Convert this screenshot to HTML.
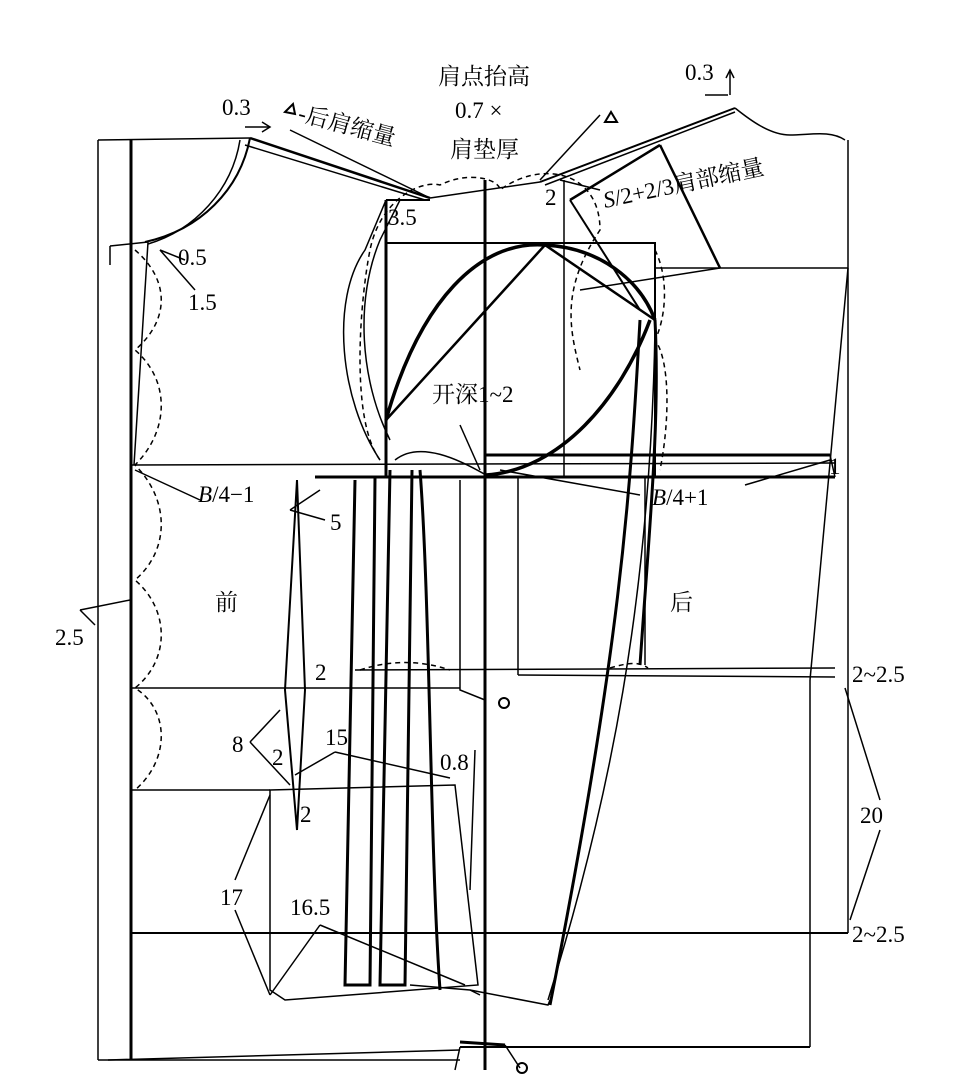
<!DOCTYPE html>
<html><head><meta charset="utf-8"><style>
html,body{margin:0;padding:0;background:#fff}
svg{display:block}
text{font-family:"Liberation Serif","Noto Serif CJK SC",serif;font-size:23px;fill:#000}
</style></head><body>
<svg width="960" height="1082" viewBox="0 0 960 1082" xmlns="http://www.w3.org/2000/svg">
<g fill="none" stroke="#000" stroke-width="1.5">
<line x1="98" y1="140" x2="98" y2="1060"/>
<line x1="98" y1="140" x2="250" y2="138"/>
<line x1="98" y1="1060" x2="460" y2="1060"/>
<line x1="131" y1="140" x2="131" y2="1060" stroke-width="3"/>
<line x1="131" y1="465" x2="835" y2="463"/>
<line x1="131" y1="688" x2="460" y2="688"/>
<line x1="131" y1="790" x2="270" y2="790"/>
<line x1="131" y1="933" x2="848" y2="933" stroke-width="2"/>
<line x1="848" y1="140" x2="848" y2="933"/>
<line x1="810" y1="680" x2="810" y2="1047"/>
<line x1="460" y1="1047" x2="810" y2="1047" stroke-width="2"/>
<line x1="460" y1="1042" x2="505" y2="1045" stroke-width="3"/>
<line x1="485" y1="180" x2="485" y2="1070" stroke-width="3"/>
<line x1="315" y1="477" x2="835" y2="477" stroke-width="3"/>
<line x1="485" y1="455" x2="830" y2="455" stroke-width="3"/>
<line x1="830" y1="455" x2="835" y2="477"/>
<line x1="518" y1="477" x2="518" y2="675"/>
<line x1="518" y1="675" x2="835" y2="677"/>
<line x1="645" y1="477" x2="645" y2="665"/>
<rect x="386" y="243" width="269" height="234" stroke-width="2"/>
<line x1="386" y1="200" x2="386" y2="477" stroke-width="3"/>
<line x1="386" y1="200" x2="430" y2="200" stroke-width="2"/>
<line x1="564" y1="180" x2="564" y2="477"/>
<line x1="655" y1="268" x2="848" y2="268"/>
<path d="M386 420 C420 300 480 240 545 245 C600 248 640 280 655 320" stroke-width="3.5"/>
<path d="M386 420 L545 245 L655 320" stroke-width="2.5"/>
<path d="M486 475 C560 470 620 400 650 320" stroke-width="3.5"/>
<path d="M380 460 C340 400 330 300 365 250 L386 200" />
<path d="M390 440 C360 380 355 300 380 240 L400 200" />
<path d="M395 460 C420 440 460 460 486 475"/>
<line x1="250" y1="138" x2="430" y2="198" stroke-width="2.5"/>
<line x1="245" y1="145" x2="425" y2="200"/>
<line x1="430" y1="198" x2="540" y2="182" stroke-width="1.5"/>
<line x1="540" y1="182" x2="735" y2="108" stroke-width="2"/>
<line x1="545" y1="185" x2="735" y2="112"/>
<path d="M735 108 C750 120 770 135 790 135 C810 135 830 130 845 140"/>
<path d="M250 138 C240 190 200 230 145 242" stroke-width="2"/>
<path d="M240 140 C232 190 195 230 148 244"/>
<line x1="110" y1="246" x2="148" y2="242"/>
<line x1="110" y1="246" x2="110" y2="265"/>
<path d="M148 242 L134 465"/>
<line x1="660" y1="145" x2="720" y2="268" stroke-width="2.5"/>
<line x1="570" y1="200" x2="660" y2="145" stroke-width="2.5"/>
<line x1="570" y1="200" x2="640" y2="310" stroke-width="2"/>
<line x1="580" y1="290" x2="720" y2="268"/>
<path d="M655 320 C660 420 650 520 640 665" stroke-width="3"/>
<path d="M640 320 C630 500 620 650 550 1005" stroke-width="3"/>
<path d="M655 330 C650 600 610 800 548 1000"/>
<path d="M848 268 L810 680"/>
<path d="M355 480 L345 985 L370 985 L375 478" stroke-width="3"/>
<path d="M390 470 L380 985 L405 985 L412 470" stroke-width="3"/>
<path d="M420 470 C430 600 430 850 440 990" stroke-width="3"/>
<path d="M460 480 L460 690 L485 700"/>
<path d="M410 985 L470 990 L480 995"/>
<path d="M470 990 L548 1005 L550 1000"/>
<path d="M270 790 L455 785 L478 985 L285 1000 L270 990 Z" stroke-width="1.5"/>
<line x1="270" y1="995" x2="320" y2="925"/>
<line x1="320" y1="925" x2="465" y2="985"/>
<line x1="295" y1="775" x2="335" y2="752"/>
<line x1="335" y1="752" x2="450" y2="778"/>
<path d="M297 480 L285 690 L297 830 L305 690 Z" stroke-width="2"/>
<line x1="250" y1="742" x2="280" y2="710"/><line x1="250" y1="742" x2="290" y2="785"/>
<line x1="160" y1="250" x2="185" y2="260"/><line x1="160" y1="250" x2="195" y2="290"/>
<line x1="135" y1="470" x2="200" y2="500"/>
<line x1="290" y1="510" x2="320" y2="490"/><line x1="290" y1="510" x2="325" y2="520"/>
<line x1="80" y1="610" x2="130" y2="600"/><line x1="80" y1="610" x2="95" y2="625"/>
<line x1="845" y1="688" x2="880" y2="800"/><line x1="850" y1="920" x2="880" y2="830"/>
<line x1="235" y1="880" x2="270" y2="795"/><line x1="235" y1="910" x2="270" y2="995"/>
<line x1="745" y1="485" x2="830" y2="460"/>
<line x1="500" y1="470" x2="640" y2="495"/>
<line x1="355" y1="670" x2="835" y2="668"/>
<line x1="460" y1="425" x2="480" y2="470"/>
<line x1="600" y1="115" x2="540" y2="180"/>
<line x1="600" y1="190" x2="560" y2="180"/>
<line x1="290" y1="130" x2="430" y2="198"/>
<line x1="108" y1="1060" x2="460" y2="1050"/>
<line x1="505" y1="1045" x2="520" y2="1068"/>
<line x1="460" y1="1047" x2="455" y2="1070"/>
<line x1="475" y1="750" x2="470" y2="890"/>
<g stroke-dasharray="5,4">
<path d="M135 250 C170 280 170 320 135 350 C170 380 170 430 135 465 C170 500 170 550 135 580 C170 610 170 660 135 688 C170 710 170 760 135 790"/>
<path d="M380 460 C350 420 360 300 370 250 C380 200 420 180 440 185 C470 170 500 180 500 190 C540 160 600 170 600 230 C560 290 570 330 580 370"/>
<path d="M655 250 C670 280 665 320 655 340 C670 360 670 420 660 470"/>
<path d="M360 670 C390 660 420 660 450 670"/>
<path d="M610 668 C630 662 640 662 648 668"/>
</g>
<circle cx="504" cy="703" r="5" stroke-width="2"/>
<circle cx="522" cy="1068" r="5" stroke-width="2"/>
<path d="M270 127 L245 127" /><path d="M262 122 L270 127 L262 132" />
<path d="M728 95 L705 95" /><path d="M730 72 L730 95"/><path d="M726 78 L730 70 L734 78"/>
</g>
<polygon points="285,112 293,104 295,114" fill="none" stroke="#000" stroke-width="2"/>
<polygon points="605,122 611,112 617,122" fill="none" stroke="#000" stroke-width="2"/>
<text x="438" y="84">肩点抬高</text>
<text x="455" y="118">0.7 ×</text>
<text x="450" y="157">肩垫厚</text>
<text x="222" y="115">0.3</text>
<text x="297" y="120" transform="rotate(15 297 120)">-后肩缩量</text>
<text x="685" y="80">0.3</text>
<text x="605" y="208" transform="rotate(-12 605 208)"><tspan font-style="italic">S</tspan>/2+2/3肩部缩量</text>
<text x="388" y="225">3.5</text>
<text x="545" y="205">2</text>
<text x="178" y="265">0.5</text>
<text x="188" y="310">1.5</text>
<text x="432" y="402">开深1~2</text>
<text x="198" y="502"><tspan font-style="italic">B</tspan>/4−1</text>
<text x="330" y="530">5</text>
<text x="652" y="505"><tspan font-style="italic">B</tspan>/4+1</text>
<text x="829" y="474" font-size="18">1</text>
<text x="215" y="610">前</text>
<text x="670" y="610">后</text>
<text x="55" y="645">2.5</text>
<text x="315" y="680">2</text>
<text x="852" y="682">2~2.5</text>
<text x="232" y="752">8</text>
<text x="272" y="765">2</text>
<text x="325" y="745">15</text>
<text x="440" y="770">0.8</text>
<text x="300" y="822">2</text>
<text x="860" y="823">20</text>
<text x="220" y="905">17</text>
<text x="290" y="915">16.5</text>
<text x="852" y="942">2~2.5</text>
</svg>
</body></html>
